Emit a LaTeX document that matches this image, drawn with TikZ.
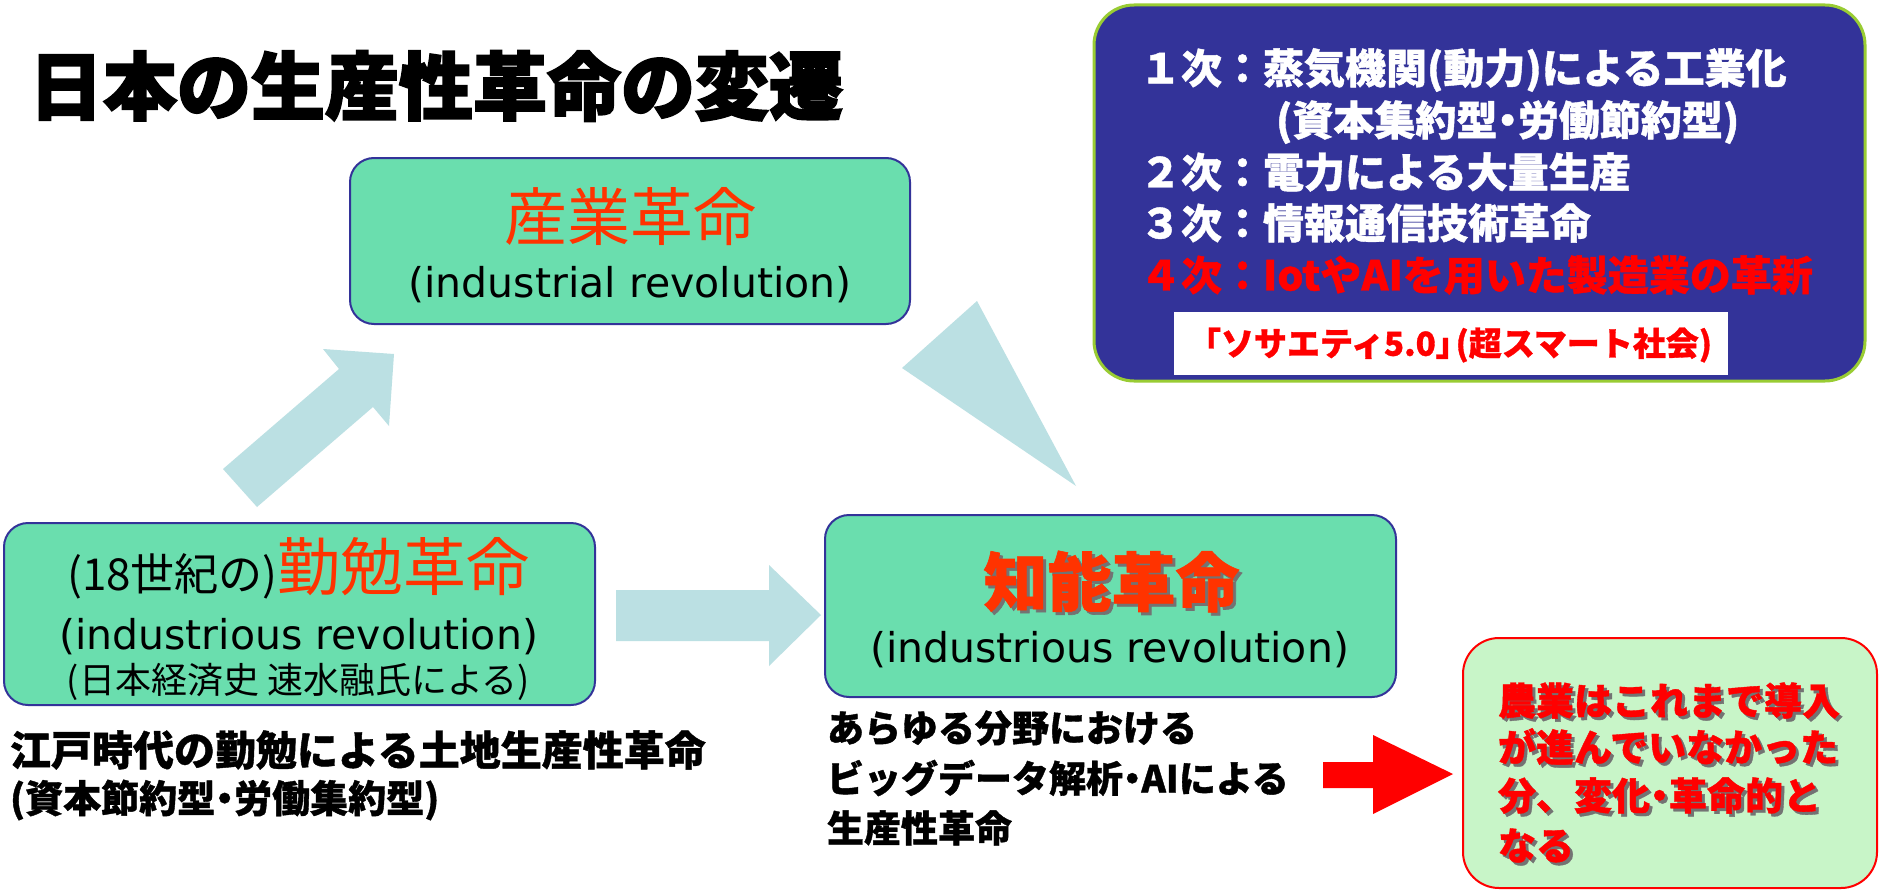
\documentclass[tikz,border=0pt]{standalone}
\usepackage{fontspec}
\setmainfont{DejaVu Sans}
\newfontfamily\jp{Noto Sans CJK JP}[BoldFeatures={FakeBold=1}]
\newfontfamily\jph{Noto Sans CJK JP}[BoldFeatures={FakeBold=2.5}]
\definecolor{mint}{RGB}{106,222,174}
\definecolor{boxblue}{RGB}{51,51,153}
\definecolor{limeb}{RGB}{153,204,51}
\definecolor{arrowc}{RGB}{187,224,227}
\definecolor{orred}{RGB}{255,51,0}
\definecolor{lgreen}{RGB}{200,245,200}
\newcommand{\fs}[1]{\fontsize{#1}{#1}\selectfont}
\newcommand{\dt}{\kern-.25em・\kern-.25em}
\newcommand{\shad}[2]{\makebox[0pt][l]{\hspace{3pt}\raisebox{-3pt}{\color{black!55}#1}}{\color{#2}#1}}
\begin{document}
\begin{tikzpicture}[x=1pt,y=-1pt,
  mintbox/.style={draw=boxblue,line width=2pt,fill=mint,rounded corners=24pt,inner sep=0pt},
  blockarrow/.style={fill=arrowc,draw=none},
  txt/.style={inner sep=0pt,outer sep=0pt},
  lt/.style={txt,anchor=west},
]
\useasboundingbox (0,0) rectangle (1879,891);
\fill[white] (0,0) rectangle (1879,891);

% title
\node[txt] (title) at (436,86) {\jph\bfseries\fs{74}日本の生産性革命の変遷};

% block arrows
\fill[blockarrow] (223,469) -- (339,369) -- (323,349) -- (394,354) -- (389,426) -- (373,407) -- (257,507) -- cycle;
\fill[blockarrow] (977,301) -- (902,368) -- (1076,486) -- cycle;
\fill[blockarrow] (616,590) -- (769,590) -- (769,565) -- (821,615) -- (769,666) -- (769,641) -- (616,641) -- cycle;
\fill[red] (1323,762) -- (1373,762) -- (1373,735) -- (1453,774) -- (1373,814) -- (1373,788) -- (1323,788) -- cycle;

% 産業革命 box
\node[mintbox,minimum width=560,minimum height=166] (sangyo) at (630,241) {};
\node[txt] (sangyoA) at (630,217) {\jp\color{orred}\fs{63}産業革命};
\node[txt] (sangyoB) at (630,285) {\fs{41}(industrial revolution)};

% 勤勉革命 box
\node[mintbox,minimum width=591,minimum height=182] (kinben) at (299.5,614) {};
\node[txt,anchor=base] (kinbenA) at (298.5,590) {\jp{\fs{44}(18世紀の)}{\color{orred}\fs{63}勤勉革命}};
\node[txt] (kinbenB) at (298.5,637) {\fs{41}(industrious revolution)};
\node[txt] (kinbenC) at (298.5,682) {\jp\fs{36}(日本経済史 速水融氏による)};
\node[lt] (edoA) at (10,750) {\jp\bfseries\fs{41}江戸時代の勤勉による土地生産性革命};
\node[lt] (edoB) at (10,800) {\jp\bfseries\fs{38}(資本節約型\dt 労働集約型)};

% 知能革命 box
\node[mintbox,minimum width=571,minimum height=182] (chino) at (1110.5,606) {};
\node[txt] (chinoA) at (1111.5,583) {\jp\bfseries\fs{64}\shad{知能革命}{orred}};
\node[txt] (chinoB) at (1109.5,650) {\fs{41}(industrious revolution)};
\node[lt] (bigA) at (827,728) {\jp\bfseries\fs{37}あらゆる分野における};
\node[lt] (bigB) at (827,778) {\jp\bfseries\fs{37}ビッグデータ解析\dt AIによる};
\node[lt] (bigC) at (827,828) {\jp\bfseries\fs{37}生産性革命};

% top-right box
\node[draw=limeb,line width=3pt,fill=boxblue,rounded corners=40pt,minimum width=771,minimum height=376,inner sep=0pt] (hist) at (1479.5,193) {};
\node[lt] (h1) at (1140,70) {\jp\bfseries\color{white}\fs{41}１次：蒸気機関(動力)による工業化};
\node[lt] (h1b) at (1276,122) {\jp\bfseries\color{white}\fs{41}(資本集約型\dt 労働節約型)};
\node[lt] (h2) at (1140,172) {\jp\bfseries\color{white}\fs{41}２次：電力による大量生産};
\node[lt] (h3) at (1140,223) {\jp\bfseries\color{white}\fs{41}３次：情報通信技術革命};
\node[lt] (h4) at (1140,275) {\jp\bfseries\color{red}\fs{41}４次：IotやAIを用いた製造業の革新};
\node[fill=white,draw=none,minimum width=554,minimum height=63,inner sep=0pt] (soc) at (1451,343.5) {};
\node[txt] (socT) at (1450,345) {\jp\bfseries\color{red}\fs{33}「ソサエティ5.0」\kern-.4em(超スマート社会)};

% 農業 box
\node[draw=red,line width=2pt,fill=lgreen,rounded corners=36pt,minimum width=414,minimum height=250,inner sep=0pt] (nogyo) at (1670,763) {};
\node[lt] (n1) at (1498,702) {\jp\bfseries\fs{38}\shad{農業はこれまで導入}{red}};
\node[lt] (n2) at (1498,748) {\jp\bfseries\fs{38}\shad{が進んでいなかった}{red}};
\node[lt] (n3) at (1498,797) {\jp\bfseries\fs{38}\shad{分、変化\dt 革命的と}{red}};
\node[lt] (n4) at (1498,847) {\jp\bfseries\fs{38}\shad{なる}{red}};
\end{tikzpicture}
\end{document}
